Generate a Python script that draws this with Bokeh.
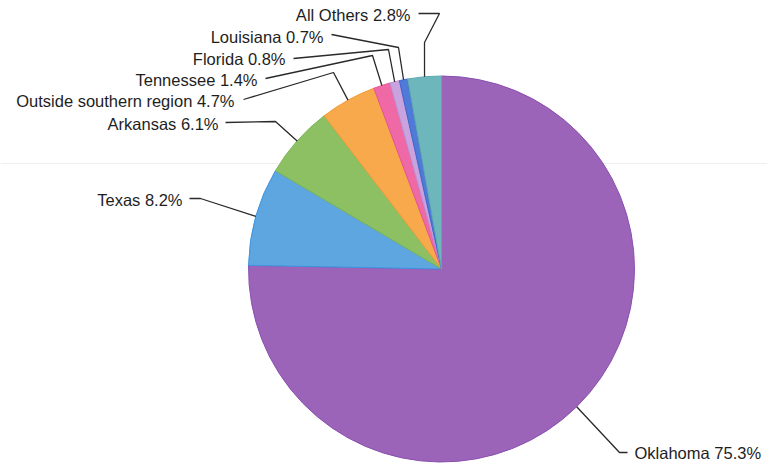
import math
from bokeh.plotting import figure
from bokeh.models import Range1d, ColumnDataSource, Span
from bokeh.core.properties import value
from bokeh.embed import file_html
from bokeh.resources import INLINE

# ---- data ----
states = ["Oklahoma", "Texas", "Arkansas", "Outside southern region",
          "Tennessee", "Florida", "Louisiana", "All Others"]
shares = [75.3, 8.2, 6.1, 4.7, 1.4, 0.8, 0.7, 2.8]
colors = ["#9b64b8", "#5ea6e0", "#8cc063", "#f7a94b",
          "#ef69a6", "#c9a3de", "#4f7ad8", "#6db6bc"]
edges = ["#8a4fb0", "#3d93e0", "#7cb455", "#f29a38",
         "#e55596", "#b98fd4", "#3c66cc", "#5aa9b0"]
labels = [f"{s} {v}%" for s, v in zip(states, shares)]

# ---- layout (image pixel coordinates; y measured downward in the image) ----
W, H = 767, 467
CX, CY_IMG, R = 441, 268.5, 193
label_pos = [(634, 452, "left"), (182, 199, "right"), (218, 123, "right"),
             (234, 100, "right"), (257, 79, "right"), (285, 58, "right"),
             (323, 36, "right"), (410, 14, "right")]
elbows = [
    [(627, 452), (619, 452)],
    [(189, 198), (200, 198)],
    [(225, 122), (275, 121)],
    [(243, 99), (333, 72)],
    [(265, 78), (372, 55)],
    [(293, 58), (388, 49)],
    [(331, 34), (398, 47)],
    [(418, 13), (439, 13), (424, 42)],
]

def Y(yimg):
    return H - yimg

p = figure(width=W, height=H, output_backend="svg", toolbar_location=None,
           x_range=Range1d(0, W), y_range=Range1d(0, H),
           min_border=0)
p.axis.visible = False
p.xgrid.visible = False
p.ygrid.visible = False
p.outline_line_color = None
p.background_fill_color = "white"

p.add_layout(Span(location=Y(163), dimension="width", line_color="#eeeeee",
                  line_width=1, level="underlay"))

total = sum(shares)
starts, ends, mids = [], [], []
cum = 0.0
for v in shares:
    a0 = math.pi / 2 - 2 * math.pi * cum / total
    cum += v
    a1 = math.pi / 2 - 2 * math.pi * cum / total
    starts.append(a0)
    ends.append(a1)
    mids.append((a0 + a1) / 2)

src = ColumnDataSource(dict(start=starts, end=ends, color=colors, edge=edges))
p.wedge(x=CX, y=Y(CY_IMG), radius=R, start_angle="start", end_angle="end",
        direction="clock", fill_color="color", line_color="edge",
        line_width=1, source=src)

xs, ys = [], []
for m, el in zip(mids, elbows):
    ex = CX + R * math.cos(m)
    ey = Y(CY_IMG) + R * math.sin(m)
    xs.append([pt[0] for pt in el] + [ex])
    ys.append([Y(pt[1]) for pt in el] + [ey])
p.multi_line(xs=xs, ys=ys, line_color="#2a2a2a", line_width=1.3)

for (lx, ly, al), t in zip(label_pos, labels):
    p.text(x=[lx], y=[Y(ly)], text=[t], text_align=al, text_baseline="middle",
           text_font=value("Liberation Sans"), text_font_size="16.5px",
           text_color="#1e1e1e")

open("out.html", "w").write(file_html(p, INLINE))
